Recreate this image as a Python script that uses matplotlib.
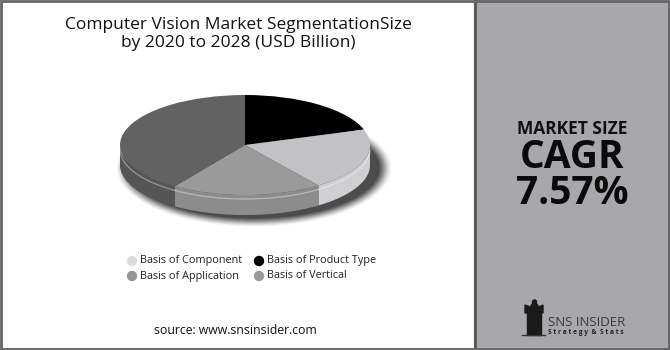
import numpy as np
import matplotlib
matplotlib.use("Agg")
import matplotlib.pyplot as plt
from matplotlib.patches import Wedge, Rectangle, Ellipse, Polygon, Circle
from matplotlib.transforms import Affine2D

# ---- data ----
categories = ["Basis of Product Type", "Basis of Component", "Basis of Application", "Basis of Vertical"]
shares = [20, 20, 19.5, 40.5]
top_colors = ["#000000", "#c2c2c4", "#9a9a9a", "#626262"]
side_colors = ["#000000", "#cfcfd1", "#8c8c8c", "#555555"]
legend_labels = ["Basis of Component", "Basis of Product Type", "Basis of Application", "Basis of Vertical"]
legend_colors = ["#dcdcdc", "#000000", "#959595", "#9a9a9a"]
title_text = "Computer Vision Market SegmentationSize\nby 2020 to 2028 (USD Billion)"
cagr_text = "7.57%"

FONT = ["Open Sans", "DejaVu Sans"]
W, H = 670, 350
fig = plt.figure(figsize=(6.7, 3.5), dpi=100)
ax = fig.add_axes([0, 0, 1, 1])
ax.set_xlim(0, W)
ax.set_ylim(0, H)
ax.axis("off")

def Y(y):
    return H - y

# backgrounds
ax.add_patch(Rectangle((0, 0), 474, H, color="white", zorder=0))
ax.add_patch(Rectangle((474, 0), W - 474, H, color="#a8a8ac", zorder=0))
ax.plot([474.5, 474.5], [0, H], color="#555555", lw=2, zorder=5)
ax.add_patch(Rectangle((1, 1), W - 2, H - 2, fill=False, ec="#666666", lw=2, zorder=6))

# title
ax.text(238, Y(34), title_text, ha="center", va="center", fontsize=12.5,
        family=FONT, color="#111111", linespacing=1.15)

# ---- 3D pie ----
cx, cy = 245, Y(145)
a, b, depth = 125, 50, 20

# shadow
for i, al in enumerate(np.linspace(0.05, 0.22, 8)):
    grow = 12 - 1.6 * i
    ax.add_patch(Ellipse((cx + 9, cy - depth - 3), 2 * (a + grow), 2 * (b + grow * 0.7),
                         color="black", alpha=al, lw=0, zorder=1))

fr = np.array(shares) / np.sum(shares)
bounds = []
start = 90.0
for f in fr:
    end = start - 360 * f
    bounds.append((end, start))
    start = end

def ept(t, dy=0):
    t = np.radians(t)
    return cx + a * np.cos(t), cy + b * np.sin(t) - dy

# sides (visible between 180 and 360 deg)
for (t1, t2), sc in zip(bounds, side_colors):
    lo = t1 % 360
    hi = lo + (t2 - t1)
    for off in (0, 360):
        s = max(lo, 180 + off)
        e = min(hi, 360 + off)
        if e > s:
            ts = np.linspace(s, e, 80)
            xs, ys = ept(ts)
            xb, yb = ept(ts[::-1], depth)
            poly = np.column_stack([np.concatenate([xs, xb]), np.concatenate([ys, yb])])
            ax.add_patch(Polygon(poly, closed=True, fc=sc, ec="none", zorder=2))
            xh, yh = ept(ts, 4)
            ax.plot(xh, yh, color="white", alpha=0.35, lw=1, zorder=3)

# top surface
tr = Affine2D().scale(1, b / a).translate(cx, cy) + ax.transData
for (t1, t2), c in zip(bounds, top_colors):
    w = Wedge((0, 0), a, t1, t2, fc=c, ec="none", zorder=4)
    w.set_transform(tr)
    ax.add_patch(w)

# legend
lx = [132, 259]
ly = [Y(261), Y(276)]
for i, (lab, col) in enumerate(zip(legend_labels, legend_colors)):
    x0 = lx[i % 2]
    y0 = ly[i // 2]
    ax.add_patch(Ellipse((x0, y0), 9, 9, color=col, zorder=5))
    ax.text(x0 + 8, y0, lab, ha="left", va="center", fontsize=7.8, family=FONT, color="#222222")

# source
ax.text(235, Y(331), "source: www.snsinsider.com", ha="center", va="center",
        fontsize=8.8, family=FONT, color="#111111")

# right panel
ax.text(572, Y(129), "MARKET SIZE", ha="center", va="center", fontsize=12.5,
        family=FONT, weight="bold", color="#111111")
ax.text(572, Y(175), "CAGR\n" + cagr_text, ha="center", va="center", fontsize=28,
        family=FONT, weight="bold", color="#0a0a0a", linespacing=0.9)

# logo
ax.add_patch(Rectangle((527, Y(335)), 14, 22, color="#1a1a1a", zorder=5))
ax.add_patch(Polygon([[525, Y(313)], [543, Y(313)], [543, Y(305)], [539, Y(307)],
                      [536, Y(303)], [533, Y(303)], [530, Y(307)], [525, Y(305)]],
                     closed=True, color="#1a1a1a", zorder=5))
ax.add_patch(Circle((534.5, Y(302)), 2, color="#1a1a1a", zorder=5))
ax.plot([522, 545], [Y(335), Y(335)], color="#333333", lw=1, zorder=5)
ax.text(548, Y(322), "SNS INSIDER", ha="left", va="center", fontsize=9.5,
        family=FONT, color="#3a3a3a")
ax.text(548, Y(333), "S t r a t e g y  &  S t a t s", ha="left", va="center", fontsize=4.8,
        family=FONT, weight="bold", color="#222222")

fig.savefig("out.png", dpi=100)
